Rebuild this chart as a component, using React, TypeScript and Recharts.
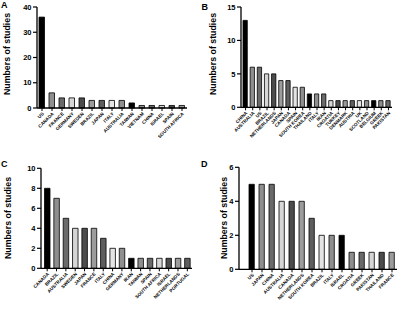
import React from 'react';
import { BarChart, Bar, XAxis, YAxis, Cell } from 'recharts';

const countriesA = ['US', 'CANADA', 'FRANCE', 'GERMANY', 'SWEDEN', 'BRAZIL', 'JAPAN', 'ITALY', 'AUSTRALIA', 'TAIWAN', 'VIETNAM', 'CHINA', 'ISRAEL', 'SPAIN', 'SOUTH AFRICA'];
const valuesA = [36, 6, 4, 4, 4, 3, 3, 3, 3, 2, 1, 1, 1, 1, 1];
const ticksA = [0, 10, 20, 30, 40];

const countriesB = ['CHINA', 'AUSTRALIA', 'US', 'BRAZIL', 'NETHERLANDS', 'JAPAN', 'CANADA', 'SPAIN', 'SOUTH KOREA', 'THAILAND', 'ITALY', 'IRAN', 'CROATIA', 'TURKEY', 'DENMARK', 'AUSTRIA', 'UK', 'SCOTLAND', 'BELGIUM', 'GREEK', 'PAKISTAN'];
const valuesB = [13, 6, 6, 5, 5, 4, 4, 3, 3, 2, 2, 2, 1, 1, 1, 1, 1, 1, 1, 1, 1];
const ticksB = [0, 5, 10, 15];

const countriesC = ['CANADA', 'BRAZIL', 'AUSTRALIA', 'SWEDEN', 'JAPAN', 'FRANCE', 'ITALY', 'CHINA', 'GERMANY', 'IRAN', 'TAIWAN', 'SPAIN', 'SOUTH AFRICA', 'ISRAEL', 'NETHERLANDS', 'PORTUGAL'];
const valuesC = [8, 7, 5, 4, 4, 4, 3, 2, 2, 1, 1, 1, 1, 1, 1, 1];
const ticksC = [0, 2, 4, 6, 8, 10];

const countriesD = ['US', 'JAPAN', 'CHINA', 'AUSTRALIA', 'CANADA', 'NETHERLANDS', 'SOUTH KOREA', 'BRAZIL', 'ITALY', 'ISRAEL', 'CROATIA', 'GREEK', 'PAKISTAN', 'THAILAND', 'FRANCE'];
const valuesD = [5, 5, 5, 4, 4, 4, 3, 2, 2, 2, 1, 1, 1, 1, 1];
const ticksD = [0, 2, 4, 6];

const palette = ['#000000', '#8f8f8f', '#6a6a6a', '#d6d6d6', '#4c4c4c', '#9c9c9c', '#5e5e5e', '#e4e4e4', '#8f8f8f'];

const FONT = '"Liberation Sans", Arial, sans-serif';

const XTick = (props: any) => {
  const { x, y, payload } = props;
  return (
    <g transform={`translate(${x},${y})`}>
      <text
        x={0}
        y={0}
        dy={3}
        textAnchor="end"
        transform="rotate(-45)"
        fontSize={4.6}
        fontWeight="bold"
        fontFamily={FONT}
        fill="#000"
      >
        {payload.value}
      </text>
    </g>
  );
};

type PanelProps = {
  names: string[];
  values: number[];
  ticks: number[];
  left: number;
  top: number;
  height: number;
  axisX: number;
  plotRight: number;
  padL: number;
  plotTop: number;
  plotBottom: number;
  barSize: number;
  letter: string;
  letterX: number;
  letterY: number;
  labelX: number;
  labelY: number;
};

const Panel = (p: PanelProps) => {
  const data = p.names.map((n, i) => ({ name: n, v: p.values[i] }));
  const W = 200;
  return (
    <div style={{ position: 'absolute', left: p.left, top: p.top, width: W, height: p.height }}>
      <BarChart
        width={W}
        height={p.height}
        data={data}
        margin={{ top: p.plotTop, right: W - p.plotRight, bottom: 0, left: 0 }}
      >
        <XAxis
          dataKey="name"
          interval={0}
          tick={<XTick />}
          tickSize={3}
          tickMargin={1}
          height={p.height - p.plotBottom}
          padding={{ left: p.padL, right: 0 }}
          axisLine={{ stroke: '#000', strokeWidth: 1.3 }}
          tickLine={{ stroke: '#000', strokeWidth: 1 }}
        />
        <YAxis
          width={p.axisX}
          domain={[0, p.ticks[p.ticks.length - 1]]}
          ticks={p.ticks}
          interval={0}
          tickSize={4}
          tickMargin={1.5}
          allowDecimals={false}
          tick={{ fill: '#000', fontSize: 7.5, fontWeight: 'bold', fontFamily: FONT }}
          axisLine={{ stroke: '#000', strokeWidth: 1.3 }}
          tickLine={{ stroke: '#000', strokeWidth: 1.2 }}
        />
        <Bar dataKey="v" isAnimationActive={false} barSize={p.barSize} stroke="#000" strokeWidth={0.8}>
          {data.map((d, i) => (
            <Cell key={d.name} fill={palette[i % palette.length]} />
          ))}
        </Bar>
      </BarChart>
      <div
        style={{
          position: 'absolute',
          left: p.letterX,
          top: p.letterY,
          fontFamily: FONT,
          fontWeight: 'bold',
          fontSize: 9,
          lineHeight: '9px',
          color: '#000',
        }}
      >
        {p.letter}
      </div>
      <div
        style={{
          position: 'absolute',
          left: p.labelX,
          top: p.labelY,
          transform: 'translate(-50%, -50%) rotate(-90deg)',
          whiteSpace: 'nowrap',
          fontFamily: FONT,
          fontWeight: 'bold',
          fontSize: 8.8,
          lineHeight: '9px',
          color: '#000',
        }}
      >
        Numbers of studies
      </div>
    </div>
  );
};

export default function App() {
  return (
    <div style={{ position: 'absolute', left: 0, top: 0, width: 400, height: 309, background: '#fff', overflow: 'hidden' }}>
      <Panel
        names={countriesA}
        values={valuesA}
        ticks={ticksA}
        left={0}
        top={0}
        height={155}
        axisX={37}
        plotRight={187}
        padL={0}
        plotTop={7}
        plotBottom={108}
        barSize={5.5}
        letter="A"
        letterX={1}
        letterY={1}
        labelX={6.5}
        labelY={54}
      />
      <Panel
        names={countriesB}
        values={valuesB}
        ticks={ticksB}
        left={200}
        top={0}
        height={155}
        axisX={41}
        plotRight={192}
        padL={1}
        plotTop={7}
        plotBottom={107.3}
        barSize={4.3}
        letter="B"
        letterX={1.5}
        letterY={3}
        labelX={12.5}
        labelY={54}
      />
      <Panel
        names={countriesC}
        values={valuesC}
        ticks={ticksC}
        left={0}
        top={155}
        height={154}
        axisX={41}
        plotRight={192}
        padL={1.5}
        plotTop={13.3}
        plotBottom={113.3}
        barSize={5.5}
        letter="C"
        letterX={1}
        letterY={5}
        labelX={8.3}
        labelY={63}
      />
      <Panel
        names={countriesD}
        values={valuesD}
        ticks={ticksD}
        left={200}
        top={155}
        height={154}
        axisX={39}
        plotRight={197}
        padL={8}
        plotTop={12.3}
        plotBottom={114.3}
        barSize={5.3}
        letter="D"
        letterX={1}
        letterY={5}
        labelX={24}
        labelY={63}
      />
    </div>
  );
}
